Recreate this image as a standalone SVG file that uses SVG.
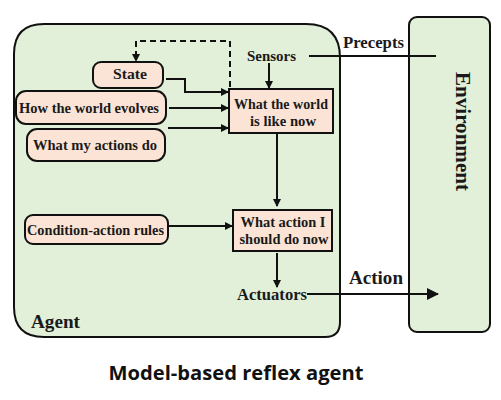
<svg xmlns="http://www.w3.org/2000/svg" width="501" height="400" viewBox="0 0 501 400">
<style>
.t{font-family:"Liberation Serif",serif;font-weight:bold;fill:#1a1a1a}
.s{font-size:14.5px}
.box{fill:#FBE4D5;stroke:#111;stroke-width:2}
.ln{stroke:#111;stroke-width:2;fill:none}
</style>
<defs>
<marker id="ah" markerWidth="8" markerHeight="8" refX="7" refY="4" orient="auto" markerUnits="userSpaceOnUse">
<path d="M0,0 L8,4 L0,8 z" fill="#111"/>
</marker>
<marker id="ah2" markerWidth="12" markerHeight="12" refX="11" refY="6" orient="auto" markerUnits="userSpaceOnUse">
<path d="M0,0 L12,6 L0,12 z" fill="#111"/>
</marker>
</defs>
<rect width="501" height="400" fill="#fff"/>
<g id="agent">
<path d="M44,24 H306 Q340,24 340,58 V322 Q340,337 325,337 H44 Q14,337 14,307 V54 Q14,24 44,24 Z" fill="#E2EFD9" stroke="#111" stroke-width="2"/>
<text class="t" x="31" y="328" font-size="19" textLength="49" lengthAdjust="spacingAndGlyphs">Agent</text>
</g>
<g id="environment">
<rect x="409" y="17" width="81" height="315" rx="8" fill="#E2EFD9" stroke="#111" stroke-width="2"/>
<text class="t" font-size="20" text-anchor="middle" transform="translate(456,131.5) rotate(90)" textLength="119" lengthAdjust="spacingAndGlyphs">Environment</text>
</g>
<g id="state"><rect class="box" x="93" y="62" width="70" height="26" rx="8"/><text class="t s" x="130" y="79" text-anchor="middle" textLength="34" lengthAdjust="spacingAndGlyphs">State</text></g>
<g id="evolves"><rect class="box" x="16" y="91" width="150" height="33" rx="10"/><text class="t s" x="89" y="113" text-anchor="middle" textLength="140" lengthAdjust="spacingAndGlyphs">How the world evolves</text></g>
<g id="actions"><rect class="box" x="27" y="129" width="138" height="32" rx="10"/><text class="t s" x="95" y="150" text-anchor="middle" textLength="124" lengthAdjust="spacingAndGlyphs">What my actions do</text></g>
<g id="world"><rect class="box" x="229" y="89" width="104" height="44"/><text class="t s" x="281" y="109" text-anchor="middle" textLength="94" lengthAdjust="spacingAndGlyphs">What the world</text><text class="t s" x="283" y="126" text-anchor="middle" textLength="66" lengthAdjust="spacingAndGlyphs">is like now</text></g>
<g id="rules"><rect class="box" x="25" y="215" width="143" height="29" rx="8"/><text class="t s" x="95.5" y="235" text-anchor="middle" textLength="137" lengthAdjust="spacingAndGlyphs">Condition-action rules</text></g>
<g id="decide"><rect class="box" x="233" y="210" width="99" height="41"/><text class="t s" x="283" y="227" text-anchor="middle" textLength="85" lengthAdjust="spacingAndGlyphs">What action I</text><text class="t s" x="284" y="244" text-anchor="middle" textLength="89" lengthAdjust="spacingAndGlyphs">should do now</text></g>
<g id="sensors"><text class="t s" x="271.5" y="61" text-anchor="middle" textLength="49" lengthAdjust="spacingAndGlyphs">Sensors</text></g>
<g id="actuators"><text class="t" font-size="16" x="272" y="300" text-anchor="middle" textLength="70" lengthAdjust="spacingAndGlyphs">Actuators</text></g>
<g id="connectors">
<line class="ln" x1="309" y1="56" x2="436" y2="56"/>
<text class="t" font-size="16.5" x="343" y="48" textLength="61" lengthAdjust="spacingAndGlyphs">Precepts</text>
<line class="ln" x1="269" y1="63" x2="269" y2="88" marker-end="url(#ah)"/>
<path class="ln" d="M230,87 V41 H136 V61" stroke-dasharray="6,4" marker-end="url(#ah)"/>
<path class="ln" d="M166,79 H185 V92 H228" marker-end="url(#ah)"/>
<line class="ln" x1="169" y1="108" x2="228" y2="108" marker-end="url(#ah)"/>
<line class="ln" x1="168" y1="128" x2="228" y2="128" marker-end="url(#ah)"/>
<line class="ln" x1="277" y1="134" x2="277" y2="206" marker-end="url(#ah)"/>
<line class="ln" x1="168" y1="226" x2="232" y2="226" marker-end="url(#ah)"/>
<line class="ln" x1="277" y1="253" x2="277" y2="287" marker-end="url(#ah)"/>
<line class="ln" x1="307" y1="294" x2="438" y2="294" marker-end="url(#ah2)"/>
<text class="t" font-size="19" x="349" y="284" textLength="54" lengthAdjust="spacingAndGlyphs">Action</text>
</g>
<text x="236" y="380" text-anchor="middle" font-family="'Open Sans','Liberation Sans',sans-serif" font-weight="bold" font-size="19" fill="#111" textLength="255" lengthAdjust="spacingAndGlyphs">Model-based reflex agent</text>
</svg>
